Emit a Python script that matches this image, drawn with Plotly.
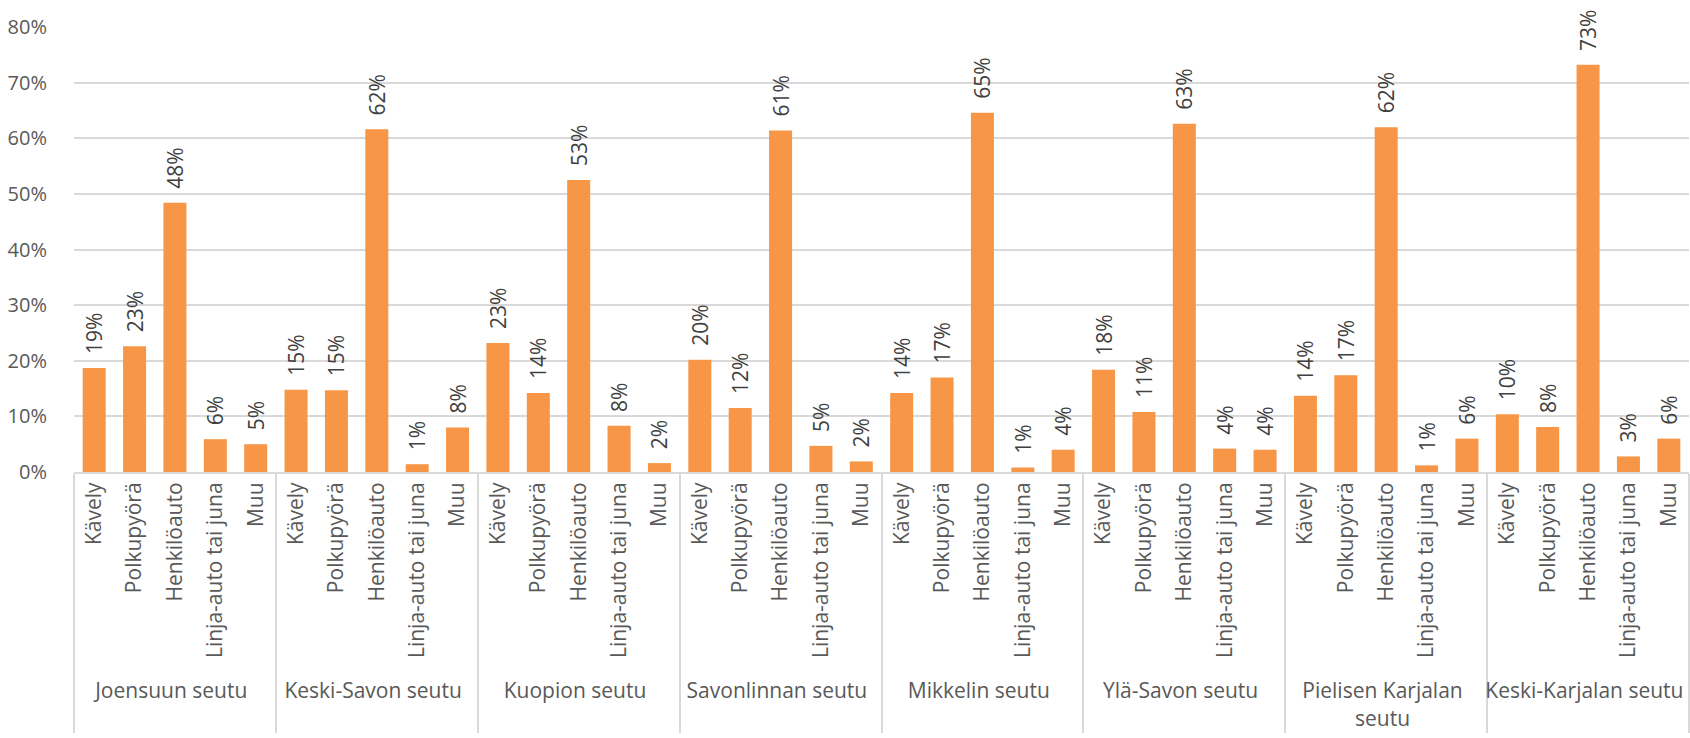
import plotly.graph_objects as go

groups = ["Joensuun seutu", "Keski-Savon seutu", "Kuopion seutu", "Savonlinnan seutu",
          "Mikkelin seutu", "Ylä-Savon seutu", "Pielisen Karjalan<br>seutu", "Keski-Karjalan seutu"]
modes = ["Kävely", "Polkupyörä", "Henkilöauto", "Linja-auto tai juna", "Muu"]

joensuu = [0.187, 0.226, 0.484, 0.059, 0.050]
keski_savo = [0.148, 0.147, 0.616, 0.014, 0.080]
kuopio = [0.232, 0.142, 0.525, 0.083, 0.016]
savonlinna = [0.202, 0.115, 0.614, 0.047, 0.019]
mikkeli = [0.142, 0.170, 0.646, 0.008, 0.040]
yla_savo = [0.184, 0.108, 0.626, 0.042, 0.040]
pielinen = [0.137, 0.174, 0.620, 0.012, 0.060]
keski_karjala = [0.104, 0.081, 0.732, 0.028, 0.060]

series = [joensuu, keski_savo, kuopio, savonlinna, mikkeli, yla_savo, pielinen, keski_karjala]

xg, xc, yv = [], [], []
for g, vals in zip(groups, series):
    for m, v in zip(modes, vals):
        xg.append(g)
        xc.append(m)
        yv.append(v)

FONT = "Open Sans"
fig = go.Figure()
fig.add_trace(go.Bar(
    x=[xg, xc], y=yv,
    marker=dict(color="#F79646", line=dict(width=0)),
    width=0.57,
    texttemplate="\u00a0\u00a0%{y:.0%}",
    textposition="outside",
    textangle=-90,
    constraintext="none",
    textfont=dict(family=FONT, size=21, color="#404040"),
    cliponaxis=False,
    hoverinfo="skip",
))

fig.update_layout(
    width=1690, height=738,
    margin=dict(l=74, r=1, t=27, b=266, autoexpand=False),
    plot_bgcolor="white", paper_bgcolor="white",
    showlegend=False,
    bargap=0.43,
    font=dict(family=FONT, size=21, color="#595959"),
)
fig.update_yaxes(
    range=[0, 0.8], tickvals=[0, 0.1, 0.2, 0.3, 0.4, 0.5, 0.6, 0.7, 0.8],
    tickformat=".0%", showgrid=True, gridcolor="#D9D9D9", gridwidth=2,
    zeroline=False, showline=False, ticks="outside", ticklen=22, tickcolor="rgba(0,0,0,0)",
    automargin=False,
    tickfont=dict(family=FONT, size=20, color="#595959"),
)
fig.update_xaxes(
    type="multicategory", tickangle=-90, showline=True, linecolor="#D9D9D9", linewidth=2,
    showdividers=True, dividercolor="#D9D9D9", dividerwidth=2,
    ticks="outside", ticklen=8, tickcolor="rgba(0,0,0,0)",
    automargin=False,
    tickfont=dict(family=FONT, size=21, color="#595959"),
)

fig.write_html("out.html", config={"displayModeBar": False},
               post_script="document.body.style.margin='0';")
